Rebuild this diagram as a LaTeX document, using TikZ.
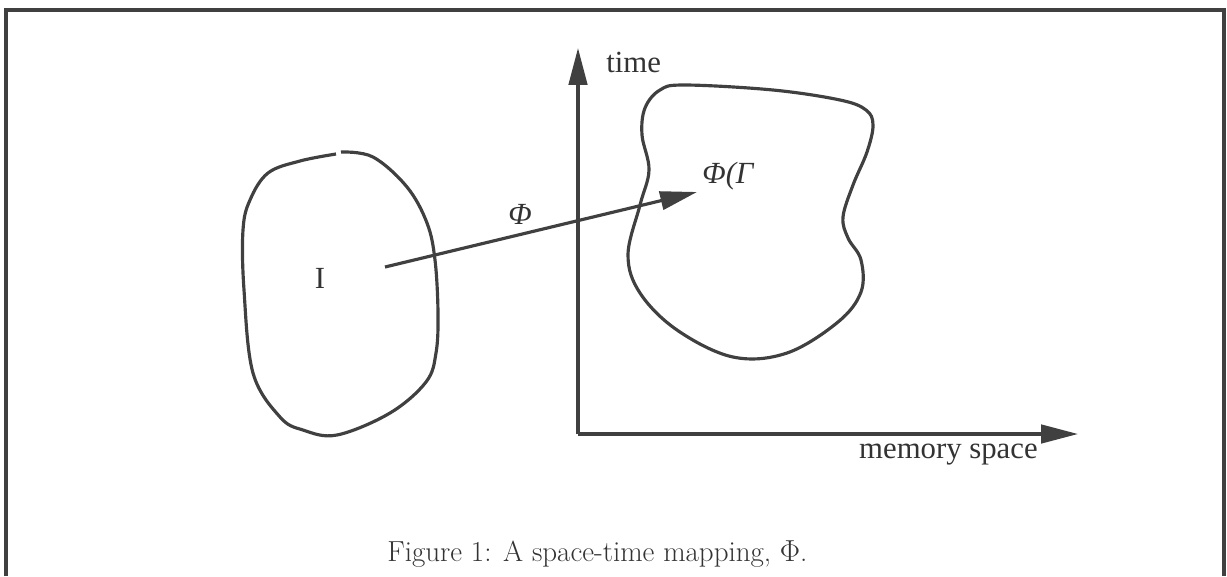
\documentclass[tikz,border=0pt]{standalone}
\usepackage{fontspec}
\newfontfamily\figfont{Liberation Serif}
\usetikzlibrary{arrows.meta}
\tikzset{
  ink/.style={draw=black!75, line width=1.8pt},
  tri/.style={-{Triangle[length=21pt,width=10.5pt]}},
  lbl/.style={inner sep=0pt, text=black!80, font=\figfont\fontsize{17.5}{20}\selectfont}
}
\begin{document}
\begin{tikzpicture}[x=0.02cm, y=-0.02cm]
        \useasboundingbox (0,0) rectangle (1227,576);
        \draw [ink] (6,576) -- (6,10) -- (1224,10) -- (1224,576);
        % axes
        \coordinate (origin) at (578,434);
        \coordinate (ytip) at (578,48);
        \coordinate (xtip) at (1078,434);
        \draw [ink, tri] (origin) -- (ytip);
        \draw [ink, tri] (origin) -- (xtip);
        \node [lbl, anchor=base west] (time) at (606,72) {time};
        \node [lbl, anchor=base east] (mem) at (1038,458) {memory space};
        % the two regions
        \draw [ink] plot [smooth, tension=0.6] coordinates {(341,152) (373,157) (407,187) (427,223) (435,260)
            (438,313) (436,353) (426,382) (390,413) (337,435) (303,430) (280,417) (253,373)
            (244,290) (243,230) (250,200) (268,173) (300,161) (336,154)};
        \draw [ink] plot [smooth cycle, tension=0.6] coordinates {(660,90) (685,85) (773,90) (840,100)
            (866,110) (873,125) (867,152) (853,185) (843,217) (848,238) (861,260) (861,292)
            (838,322) (787,353) (733,357) (677,330) (640,293) (628,255) (640,205) (649,170)
            (642,135) (645,108)};
        \node [lbl, anchor=base] (I) at (320,288) {I};
        \node [lbl, anchor=base west] (img) at (702,183) {\itshape Φ(Γ};
        % the mapping
        \coordinate (src) at (385,267);
        \coordinate (dst) at (697,192);
        \draw [ink, tri] (src) -- (dst);
        \node [lbl, anchor=base] (phi) at (520,224) {\itshape Φ};
        \node [inner sep=0pt, anchor=base west, text=black!80, font=\fontsize{16.5}{20}\selectfont] (cap)
            at (387,561) {Figure 1: A space-time mapping, $\Phi$.};
\end{tikzpicture}
\end{document}
